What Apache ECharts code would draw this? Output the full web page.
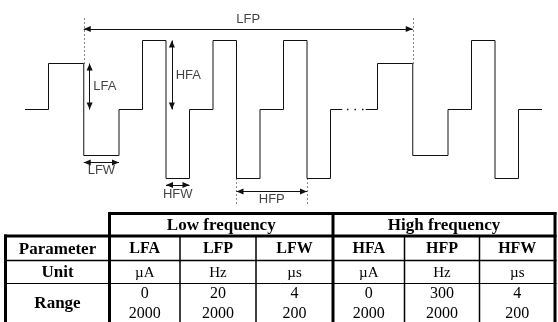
<!DOCTYPE html>
<html><head><meta charset="utf-8">
<script src="https://cdn.jsdelivr.net/npm/echarts@6/dist/echarts.min.js"></script>
<style>html,body{margin:0;padding:0;background:#fff}#c{width:558px;height:322px}</style>
</head><body><div id="c"></div>
<script>
// ---- Waveform data (time in half-HF-pulse units, level in amplitude units) ----
const waveTimesA  = [0, 2, 5, 8, 10, 12, 14, 16, 18, 20, 22, 24, 26, 27];
const waveLevelsA = [0, 2, -2, 0, 3, -3, 0, 3, -3, 0, 3, -3, 0, 0];
const gapTimes    = [27.4, 29];
const gapLevels   = [0, 0];
const waveTimesB  = [29, 30, 33, 36, 38, 40, 42, 44];
const waveLevelsB = [0, 2, -2, 0, 3, -3, 0, 0];

// ---- Annotation arrows (data units) ----
const arrowNames = ['LFP', 'LFA', 'HFA', 'LFW', 'HFW', 'HFP'];
const arrowFrom  = [[5, 3.5], [5.5, 2], [12.5, 3], [5, -2.3], [12, -3.28], [18, -3.57]];
const arrowTo    = [[33, 3.5], [5.5, 0], [12.5, 0], [8, -2.3], [14, -3.28], [24, -3.57]];
const labelAt    = [[19, 3.9], [6.8, 1], [13.9, 1.5], [6.5, -2.66], [13, -3.69], [21, -3.9]];
const guideFrom  = [[5, 2], [33, 2], [18, -3], [24, -3]];
const guideTo    = [[5, 4], [33, 4], [18, -4.15], [24, -4.15]];

// ---- Table data ----
const tableGroups = ['Low frequency', 'High frequency'];
const rowLabels   = ['Parameter', 'Unit', 'Range'];
const paramNames  = ['LFA', 'LFP', 'LFW', 'HFA', 'HFP', 'HFW'];
const paramUnits  = ['µA', 'Hz', 'µs', 'µA', 'Hz', 'µs'];
const rangeMin    = ['0', '20', '4', '0', '300', '4'];
const rangeMax    = ['2000', '2000', '200', '2000', '2000', '200'];

// ---- Layout ----
const colX = [5.5, 109.5, 180, 256, 333, 404.5, 479.5, 555];
const rowY = [213.5, 236, 260.5, 283.5, 326];
const INK = '#111';
const serif = '"Liberation Serif", "Times New Roman", serif';

const chart = echarts.init(document.getElementById('c'), null, {renderer: 'canvas'});

const pts = (ts, ls) => ts.map((t, i) => [t, ls[i]]);
const arrowSym = {symbol: ['triangle', 'triangle'], symbolSize: [6, 7], symbolOffset: [[0, 3.5], [0, 3.5]]};

const markLineData = arrowNames.map((n, i) => [
  {coord: arrowFrom[i]}, {coord: arrowTo[i]}
]).concat(guideFrom.map((gp, i) => [
  {coord: gp, symbol: 'none', lineStyle: {type: [1, 3], width: 1, color: INK}},
  {coord: guideTo[i], symbol: 'none'}
]));

// Table graphics
const g = [];
function hline(x1, x2, y, w) { g.push({type: 'line', shape: {x1, y1: y, x2, y2: y}, style: {stroke: '#000', lineWidth: w}, silent: true}); }
function vline(x, y1, y2, w) { g.push({type: 'line', shape: {x1: x, y1, x2: x, y2}, style: {stroke: '#000', lineWidth: w}, silent: true}); }
function txt(s, x, y, bold, size) {
  g.push({type: 'text', silent: true, style: {text: s, x, y, textAlign: 'center', textVerticalAlign: 'middle', align: 'center', verticalAlign: 'middle',
    font: (bold ? 'bold ' : '') + size + 'px ' + serif, fill: '#000'}});
}
const L = colX[0] - 1.5, R = colX[7] + 1.5;
hline(colX[1] - 1.5, R, rowY[0], 3);
hline(L, R, rowY[1], 3);
hline(L, R, rowY[2], 1.5);
hline(L, R, rowY[3], 1);
vline(colX[0], rowY[1] - 1.5, rowY[4], 3);
vline(colX[1], rowY[0] - 1.5, rowY[4], 3);
vline(colX[4], rowY[0] - 1.5, rowY[4], 3);
vline(colX[7], rowY[0] - 1.5, rowY[4], 3);
[2, 3, 5, 6].forEach(k => vline(colX[k], rowY[1], rowY[4], 1.5));
txt(tableGroups[0], (colX[1] + colX[4]) / 2, (rowY[0] + rowY[1]) / 2 + 1, true, 17);
txt(tableGroups[1], (colX[4] + colX[7]) / 2, (rowY[0] + rowY[1]) / 2 + 1, true, 17);
txt(rowLabels[0], (colX[0] + colX[1]) / 2, (rowY[1] + rowY[2]) / 2 + 1, true, 17);
txt(rowLabels[1], (colX[0] + colX[1]) / 2, (rowY[2] + rowY[3]) / 2 + 1, true, 17);
txt(rowLabels[2], (colX[0] + colX[1]) / 2, 304, true, 17);
for (let i = 0; i < 6; i++) {
  const cx = (colX[i + 1] + colX[i + 2]) / 2;
  txt(paramNames[i], cx, (rowY[1] + rowY[2]) / 2 + 1, true, 16);
  txt(paramUnits[i], cx, (rowY[2] + rowY[3]) / 2 + 1, false, 15);
  txt(rangeMin[i], cx, 294, false, 16);
  txt(rangeMax[i], cx, 314, false, 16);
}

chart.setOption({
  animation: false,
  backgroundColor: '#fff',
  grid: {left: 25, right: 558 - 25 - 44 * 11.75, top: 6, height: 207, containLabel: false},
  xAxis: {type: 'value', min: 0, max: 44, show: false},
  yAxis: {type: 'value', min: -4.5, max: 4.5, show: false},
  series: [
    {type: 'line', step: 'end', data: pts(waveTimesA, waveLevelsA), showSymbol: false, symbol: 'none',
     lineStyle: {color: INK, width: 1}, silent: true,
     markLine: Object.assign({silent: true, animation: false, label: {show: false},
       lineStyle: {color: INK, width: 1, type: 'solid'}, data: markLineData}, arrowSym)},
    {type: 'line', data: pts(gapTimes, gapLevels), showSymbol: false, symbol: 'none',
     lineStyle: {color: INK, width: 1.3, type: [1.5, 6]}, silent: true},
    {type: 'line', step: 'end', data: pts(waveTimesB, waveLevelsB), showSymbol: false, symbol: 'none',
     lineStyle: {color: INK, width: 1}, silent: true},
    {type: 'scatter', symbolSize: 0, silent: true,
     data: arrowNames.map((n, i) => ({name: n, value: labelAt[i]})),
     label: {show: true, position: 'inside', formatter: '{b}', color: INK, fontSize: 13,
       fontFamily: '"Liberation Sans", Arial, sans-serif'}}
  ],
  graphic: g
});
</script></body></html>
